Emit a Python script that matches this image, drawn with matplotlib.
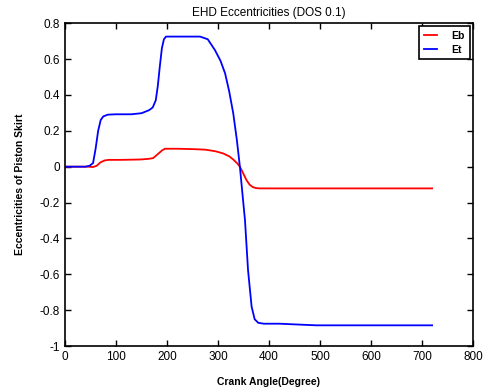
import numpy as np
import matplotlib
matplotlib.use("Agg")
import matplotlib.pyplot as plt
from matplotlib.ticker import FuncFormatter

# Skirt eccentricities over one cycle (crank angle in degrees)
angle_eb = [0, 45, 55, 62, 70, 78, 86, 110, 147, 165, 173, 182, 190, 196,
            220, 250, 275, 295, 310, 322, 330, 338, 343, 350, 356, 362,
            368, 374, 382, 400, 500, 600, 720]
eb = [0, 0, -0.002, 0.005, 0.025, 0.035, 0.038, 0.038, 0.040, 0.044,
      0.048, 0.07, 0.09, 0.1, 0.1, 0.098, 0.095, 0.086, 0.074, 0.058,
      0.04, 0.018, 0.0, -0.04, -0.075, -0.1, -0.113, -0.119, -0.121,
      -0.121, -0.121, -0.121, -0.121]

angle_et = [0, 40, 48, 55, 60, 65, 70, 75, 84, 100, 130, 150, 165, 172,
            178, 182, 186, 190, 194, 198, 210, 240, 265, 280, 294, 305,
            314, 322, 330, 337, 343, 348, 353, 359, 366, 372, 379, 390,
            421, 460, 493, 600, 720]
et = [0, 0, 0.005, 0.02, 0.1, 0.2, 0.26, 0.28, 0.29, 0.292, 0.292, 0.298,
      0.315, 0.33, 0.37, 0.45, 0.56, 0.66, 0.71, 0.725, 0.725, 0.725,
      0.725, 0.71, 0.65, 0.59, 0.52, 0.42, 0.297, 0.15, 0.0, -0.15,
      -0.298, -0.577, -0.78, -0.85, -0.87, -0.875, -0.875, -0.88, -0.884,
      -0.884, -0.884]

plt.rcParams['font.family'] = ['Liberation Sans', 'DejaVu Sans']

fig = plt.figure(figsize=(4.87, 3.92), dpi=100)
ax = fig.add_axes([0.1335, 0.117, 0.8375, 0.824])

ax.plot(angle_eb, eb, color='#ff0000', linewidth=1.3, label='Eb')
ax.plot(angle_et, et, color='#0000ff', linewidth=1.3, label='Et')

ax.set_xlim(0, 800)
ax.set_ylim(-1, 0.8)
ax.set_xticks(np.arange(0, 801, 100))
ax.set_yticks(np.arange(-1, 0.81, 0.2))
ax.yaxis.set_major_formatter(FuncFormatter(lambda v, p: f"{v:g}" if abs(v) > 1e-9 else "0"))

ax.tick_params(direction='in', top=True, right=True, labelsize=8.5, length=4, width=1)
for s in ax.spines.values():
    s.set_linewidth(1.2)

ax.set_title('EHD Eccentricities (DOS 0.1)', fontsize=8.5, pad=5)
ax.set_xlabel('Crank Angle(Degree)', fontsize=7.5, fontweight='bold', labelpad=10)
ax.set_ylabel('Eccentricities of Piston Skirt', fontsize=7.5, fontweight='bold', labelpad=11)

leg = ax.legend(loc='upper right', fancybox=False, framealpha=1, edgecolor='black',
                prop={'weight': 'bold', 'size': 7.5}, handlelength=1.3,
                borderpad=0.45, labelspacing=0.35, handletextpad=1.4,
                borderaxespad=0.3)
leg.get_frame().set_linewidth(1.2)

plt.savefig('out.png', dpi=100)
plt.close()
